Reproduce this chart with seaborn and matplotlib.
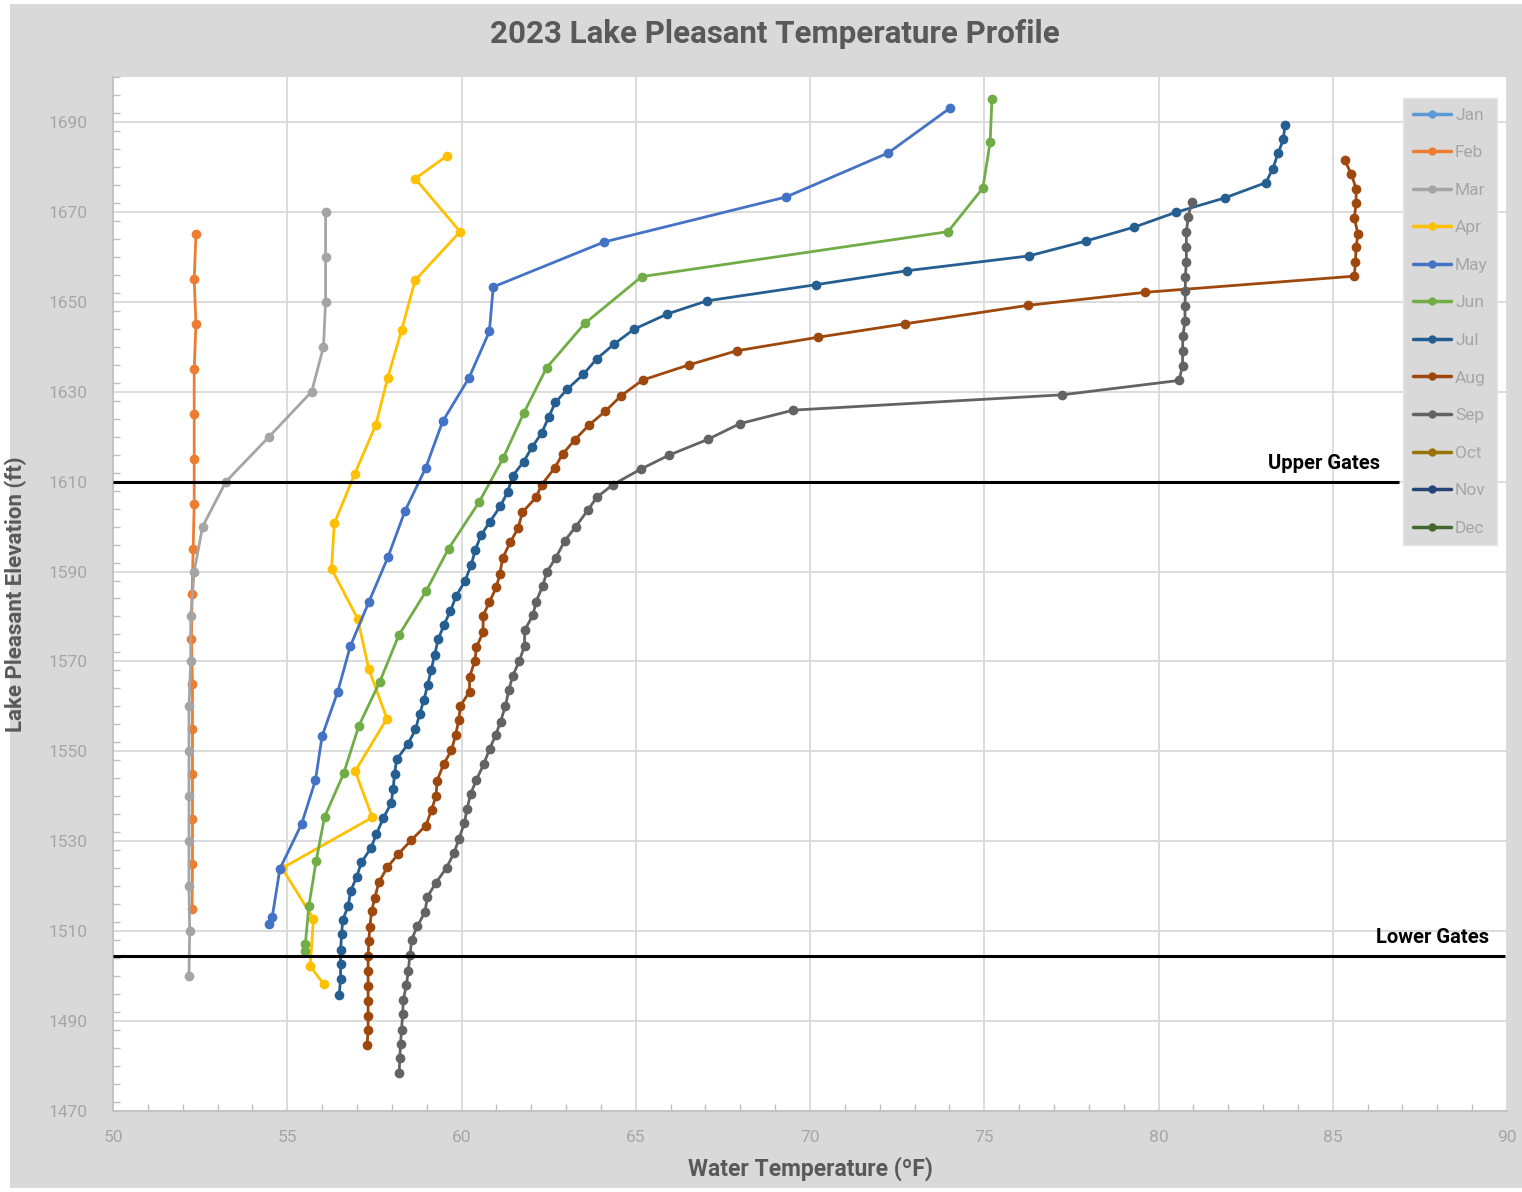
import matplotlib
matplotlib.use("Agg")
import matplotlib.pyplot as plt
from matplotlib.lines import Line2D
from matplotlib.patches import Rectangle
from matplotlib.ticker import MultipleLocator
import seaborn as sns
import pandas as pd

# --- datos ---
MONTHS = ["Jan", "Feb", "Mar", "Apr", "May", "Jun",
          "Jul", "Aug", "Sep", "Oct", "Nov", "Dec"]
COLORS = ["#5B9BD5", "#ED7D31", "#A5A5A5", "#FFC000", "#4472C4", "#70AD47",
          "#255E91", "#9E480E", "#636363", "#997300", "#264478", "#43682B"]

feb_elev = [1665, 1655, 1645, 1635, 1625, 1615, 1605, 1595, 1585, 1575,
            1565, 1555, 1545, 1535, 1525, 1515]
feb_temp = [52.38, 52.33, 52.38, 52.33, 52.33, 52.33, 52.33, 52.3, 52.27, 52.25,
            52.28, 52.28, 52.28, 52.28, 52.28, 52.27]

mar_elev = [1670, 1660, 1650, 1640, 1630, 1620, 1610, 1600, 1590, 1580,
            1570, 1560, 1550, 1540, 1530, 1520, 1510, 1500]
mar_temp = [56.1, 56.1, 56.1, 56.04, 55.7, 54.48, 53.24, 52.57, 52.33, 52.23,
            52.23, 52.18, 52.18, 52.18, 52.18, 52.18, 52.2, 52.18]

apr_elev = [1682.4, 1677.4, 1665.6, 1654.8, 1643.7, 1633.0, 1622.6, 1611.8, 1600.7,
            1590.6, 1579.5, 1568.3, 1557.3, 1545.6, 1535.3, 1524.0, 1512.8, 1502.2,
            1498.2]
apr_temp = [59.57, 58.67, 59.96, 58.67, 58.28, 57.88, 57.54, 56.94, 56.35,
            56.27, 57.02, 57.34, 57.86, 56.95, 57.44, 54.85, 55.75, 55.66,
            56.05]

may_elev = [1693.1, 1683.1, 1673.3, 1663.3, 1653.3, 1643.4, 1633.0, 1623.4, 1613.0,
            1603.5, 1593.2, 1583.2, 1573.4, 1563.3, 1553.4, 1543.6, 1533.8, 1523.9,
            1513.2, 1511.5]
may_temp = [74.02, 72.24, 69.31, 64.09, 60.91, 60.8, 60.21, 59.46, 58.97,
            58.38, 57.89, 57.34, 56.81, 56.45, 56.0, 55.81, 55.41, 54.79,
            54.57, 54.47]

jun_elev = [1695.1, 1685.6, 1675.3, 1665.6, 1655.6, 1645.2, 1635.3, 1625.3, 1615.3,
            1605.5, 1595.1, 1585.6, 1575.8, 1565.4, 1555.6, 1545.1, 1535.4, 1525.7,
            1515.6, 1507.2, 1505.5]
jun_temp = [75.22, 75.17, 74.96, 73.96, 65.17, 63.54, 62.44, 61.79, 61.2,
            60.51, 59.63, 58.98, 58.2, 57.65, 57.05, 56.62, 56.07, 55.83,
            55.62, 55.52, 55.5]

jul_elev = [1689.3, 1686.1, 1683.0, 1679.6, 1676.5, 1673.1, 1669.9, 1666.6, 1663.5,
            1660.2, 1656.9, 1653.8, 1650.2, 1647.3, 1643.9, 1640.6, 1637.3, 1633.9,
            1630.6, 1627.6, 1624.3, 1620.8, 1617.6, 1614.4, 1611.3, 1607.6, 1604.5,
            1601.1, 1598.1, 1594.7, 1591.5, 1587.9, 1584.6, 1581.2, 1578.0, 1574.9,
            1571.5, 1568.1, 1564.8, 1561.4, 1558.3, 1554.9, 1551.7, 1548.2, 1545.0,
            1541.6, 1538.4, 1535.1, 1531.6, 1528.5, 1525.3, 1522.1, 1518.9, 1515.7,
            1512.4, 1509.3, 1505.9, 1502.6, 1499.3, 1495.8]
jul_temp = [83.63, 83.58, 83.43, 83.28, 83.08, 81.9, 80.5, 79.3, 77.91,
            76.28, 72.78, 70.17, 67.04, 65.91, 64.95, 64.38, 63.88, 63.5,
            63.04, 62.69, 62.5, 62.3, 62.02, 61.78, 61.47, 61.32, 61.11,
            60.82, 60.56, 60.39, 60.28, 60.1, 59.85, 59.68, 59.49, 59.33,
            59.23, 59.13, 59.03, 58.92, 58.8, 58.68, 58.47, 58.14, 58.08,
            58.04, 57.98, 57.75, 57.56, 57.4, 57.13, 56.99, 56.82, 56.75,
            56.59, 56.56, 56.53, 56.53, 56.53, 56.49]

aug_elev = [1681.5, 1678.5, 1675.1, 1672.0, 1668.7, 1665.1, 1662.1, 1658.8, 1655.7,
            1652.1, 1649.2, 1645.1, 1642.1, 1639.1, 1636.0, 1632.6, 1629.1, 1625.6,
            1622.6, 1619.3, 1616.1, 1613.0, 1609.3, 1606.5, 1603.2, 1599.6, 1596.5,
            1593.0, 1589.5, 1586.5, 1583.2, 1580.2, 1576.5, 1573.2, 1570.0, 1566.6,
            1563.3, 1560.1, 1556.9, 1553.6, 1550.2, 1547.2, 1543.5, 1540.1, 1537.0,
            1533.5, 1530.2, 1527.1, 1524.2, 1520.9, 1517.4, 1514.4, 1511.0, 1507.8,
            1504.4, 1501.1, 1497.8, 1494.4, 1491.1, 1488.0, 1484.6]
aug_temp = [85.34, 85.53, 85.67, 85.67, 85.62, 85.72, 85.67, 85.65, 85.62,
            79.61, 76.25, 72.73, 70.22, 67.9, 66.54, 65.2, 64.58, 64.12,
            63.66, 63.25, 62.9, 62.67, 62.3, 62.14, 61.75, 61.62, 61.4,
            61.18, 61.1, 61.0, 60.8, 60.62, 60.62, 60.43, 60.38, 60.23,
            60.23, 59.97, 59.92, 59.83, 59.71, 59.49, 59.3, 59.27, 59.14,
            58.98, 58.55, 58.18, 57.87, 57.63, 57.51, 57.42, 57.37, 57.34,
            57.32, 57.32, 57.32, 57.32, 57.32, 57.32, 57.29]

sep_elev = [1672.1, 1668.8, 1665.5, 1662.2, 1658.9, 1655.6, 1652.3, 1649.0, 1645.7,
            1642.4, 1639.1, 1635.8, 1632.5, 1629.3, 1625.9, 1622.9, 1619.4, 1615.9,
            1612.8, 1609.3, 1606.5, 1603.6, 1600.0, 1596.9, 1593.0, 1589.9, 1586.8,
            1583.3, 1580.3, 1576.9, 1573.5, 1570.1, 1566.8, 1563.7, 1560.1, 1556.6,
            1553.6, 1550.6, 1547.2, 1543.7, 1540.5, 1537.2, 1534.0, 1530.6, 1527.3,
            1524.1, 1520.7, 1517.6, 1514.2, 1511.1, 1508.1, 1504.6, 1501.1, 1498.0,
            1494.8, 1491.5, 1488.1, 1485.0, 1481.7, 1478.4]
sep_temp = [80.95, 80.85, 80.8, 80.8, 80.8, 80.77, 80.77, 80.76, 80.76,
            80.7, 80.69, 80.69, 80.59, 77.23, 69.52, 67.99, 67.07, 65.96,
            65.15, 64.34, 63.88, 63.62, 63.28, 62.97, 62.7, 62.45, 62.33,
            62.14, 62.05, 61.81, 61.81, 61.66, 61.47, 61.36, 61.26, 61.12,
            60.98, 60.81, 60.64, 60.43, 60.26, 60.16, 60.08, 59.93, 59.78,
            59.57, 59.26, 59.02, 58.95, 58.73, 58.57, 58.52, 58.47, 58.42,
            58.33, 58.31, 58.28, 58.25, 58.23, 58.21]

UPPER_GATES = 1610.0
LOWER_GATES = 1504.5

series = {
    "Feb": (feb_temp, feb_elev),
    "Mar": (mar_temp, mar_elev),
    "Apr": (apr_temp, apr_elev),
    "May": (may_temp, may_elev),
    "Jun": (jun_temp, jun_elev),
    "Jul": (jul_temp, jul_elev),
    "Aug": (aug_temp, aug_elev),
    "Sep": (sep_temp, sep_elev),
}

rows = []
for month, (temps, elevs) in series.items():
    for t, e in zip(temps, elevs):
        rows.append({"month": month, "temp": t, "elev": e})
df = pd.DataFrame(rows)
palette = dict(zip(MONTHS, COLORS))

# --- grafico ---
sns.set_theme(style="white")
plt.rcParams["font.family"] = ["Roboto", "DejaVu Sans"]

fig = plt.figure(figsize=(15.22, 11.92), dpi=100)
fig.patch.set_facecolor("white")
fondo = Rectangle((10 / 1522, 4 / 1192), 1512 / 1522, 1184 / 1192,
                  transform=fig.transFigure, facecolor="#D9D9D9",
                  edgecolor="none", zorder=-10)
fig.add_artist(fondo)

ax = fig.add_axes([113 / 1522, 1 - 1111 / 1192, 1394 / 1522, 1034 / 1192])
ax.set_facecolor("white")

present = [m for m in MONTHS if m in series]
sns.lineplot(data=df, x="temp", y="elev", hue="month", hue_order=present,
             palette=palette, sort=False, estimator=None, marker="o",
             markersize=7, markeredgewidth=0, linewidth=2.0, legend=False, ax=ax)

ax.set_xlim(50, 90)
ax.set_ylim(1470, 1700)
ax.xaxis.set_major_locator(MultipleLocator(5))
ax.xaxis.set_minor_locator(MultipleLocator(1))
ax.yaxis.set_minor_locator(MultipleLocator(4))
ax.set_yticks(range(1470, 1700, 20))
ax.grid(True, which="major", color="#D9D9D9", linewidth=1.3)
ax.set_axisbelow(True)
for s in ["top", "right"]:
    ax.spines[s].set_visible(False)
for s in ["left", "bottom"]:
    ax.spines[s].set_color("#BFBFBF")
    ax.spines[s].set_linewidth(1.2)
ax.tick_params(which="both", direction="in", colors="#BFBFBF", labelcolor="#A6A6A6",
               labelsize=12.5, bottom=True, left=True)
ax.tick_params(axis="y", which="major", length=0, pad=18)
ax.tick_params(axis="x", which="major", length=0, pad=14)
ax.tick_params(which="minor", length=5)

ax.set_xlabel("Water Temperature (ºF)", fontsize=16.5, fontweight="bold",
              color="#595959", labelpad=8)
ax.set_ylabel("Lake Pleasant Elevation (ft)", fontsize=16, fontweight="bold",
              color="#595959", labelpad=16)

# compuertas
ax.hlines(UPPER_GATES, 50, 86.9, color="black", linewidth=2.2, zorder=5)
ax.hlines(LOWER_GATES, 50, 89.95, color="black", linewidth=2.2, zorder=5)
ax.text(86.35, UPPER_GATES + 2.0, "Upper Gates", ha="right", va="bottom",
        fontsize=14.5, fontweight="bold", color="black")
ax.text(89.5, LOWER_GATES + 2.0, "Lower Gates", ha="right", va="bottom",
        fontsize=14.5, fontweight="bold", color="black")

fig.text(775 / 1522, 1 - 34 / 1192, "2023 Lake Pleasant Temperature Profile",
         ha="center", va="center", fontsize=22.5, fontweight="bold", color="#595959")

handles = [Line2D([0], [0], color=c, linewidth=2.5, marker="o", markersize=6,
                  markeredgewidth=0) for c in COLORS]
leg = ax.legend(handles, MONTHS, loc="upper left",
                bbox_to_anchor=(1403 / 1522, 1 - 98 / 1192),
                bbox_transform=fig.transFigure, borderaxespad=0,
                fontsize=12.5, labelspacing=1.29, handlelength=2.2,
                handletextpad=0.25, frameon=True, fancybox=False,
                borderpad=0.55)
leg.get_frame().set_facecolor("#D9D9D9")
leg.get_frame().set_edgecolor("#E6E6E6")
leg.get_frame().set_alpha(1)
for t in leg.get_texts():
    t.set_color("#A6A6A6")

plt.savefig("out.png", dpi=100, facecolor=fig.get_facecolor())
print("guardado out.png")
